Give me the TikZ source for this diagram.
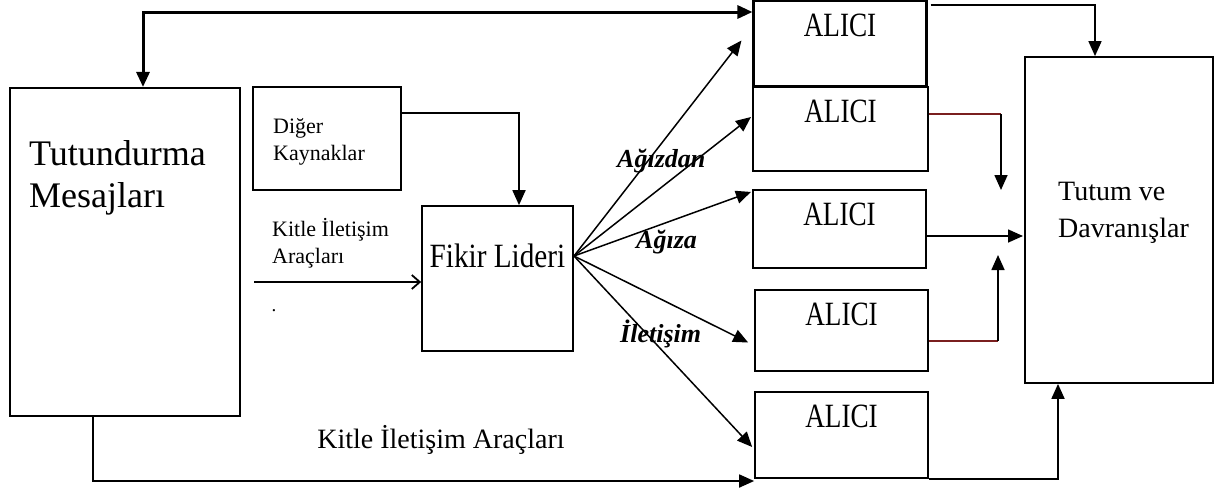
\documentclass[tikz,border=0pt]{standalone}
\usepackage{fontspec}
\setmainfont{Liberation Serif}
\newfontfamily\narrowfont{Liberation Serif}[FakeStretch=0.8]
\newfontfamily\midfont{Liberation Serif}[FakeStretch=0.86]
\usetikzlibrary{arrows.meta,calc}
\definecolor{linkred}{HTML}{7A1F1F}
\tikzset{
  box/.style={draw, line width=2.1pt, inner sep=0pt},
  tri/.style={-{Triangle[length=15pt,width=13pt]}},
  tritwo/.style={{Triangle[length=15pt,width=13pt]}-{Triangle[length=15pt,width=13pt]}},
  barb/.style={-{Straight Barb[length=8pt,width=14pt,line width=1.8pt]}},
  conn/.style={line width=1.8pt},
  fanline/.style={line width=1.5pt, tri},
  alici/.style={box, minimum width=173pt,
    label={[anchor=north, inner sep=0pt, yshift=-14pt, font=\narrowfont\fontsize{34}{34}\selectfont]north:ALICI}},
  lbl/.style={font=\bfseries\itshape\fontsize{26}{26}\selectfont, inner sep=0pt}
}
\begin{document}
\begin{tikzpicture}[x=1pt,y=-1pt]
\useasboundingbox (0,0) rectangle (1215,493);

% boxes (multi-line texts are placed by the baseline of their last line)
\node[box, minimum width=230pt, minimum height=328pt] (tut) at (125,252) {};
\node[anchor=base west, inner sep=0pt, align=left, font=\fontsize{36}{42}\selectfont] at (29,207) {Tutundurma\\Mesajları};

\node[box, minimum width=148pt, minimum height=103pt] (dig) at (327,138.5) {};
\node[anchor=base west, inner sep=0pt, align=left, font=\fontsize{22}{27}\selectfont] at (273,160) {Diğer\\Kaynaklar};

\node[box, line width=1.7pt, minimum width=151pt, minimum height=145pt] (fik) at (497.5,278.5) {};
\node[anchor=base, inner sep=0pt, font=\midfont\fontsize{34}{34}\selectfont] at (fik.center |- 0,267) {Fikir Lideri};

\node[alici, minimum height=85pt] (a1) at (840,43.5) {};
\node[alici, minimum height=84pt, minimum width=175pt] (a2) at (840.5,129) {};
\node[alici, minimum height=78pt] (a3) at (839.5,229) {};
\node[alici, line width=1.7pt, minimum height=81pt] (a4) at (841.5,330.5) {};
\node[alici, line width=1.7pt, minimum height=86pt] (a5) at (841.5,435) {};

\node[box, line width=1.8pt, minimum width=188pt, minimum height=326pt] (tt) at (1119,220) {};
\node[anchor=base west, inner sep=0pt, align=left, font=\fontsize{28}{37}\selectfont] at (1058,237) {Tutum ve\\Davranışlar};

% texts on the left
\node[anchor=base west, inner sep=0pt, align=left, font=\fontsize{22}{27}\selectfont] at (272,263) {Kitle İletişim\\Araçları};
\node[inner sep=0pt, font=\fontsize{19}{19}\selectfont] at (274,311) {.};
\node[anchor=base, inner sep=0pt, font=\fontsize{28}{28}\selectfont] at (441,448) {Kitle İletişim Araçları};

% fixed points of the connectors
\coordinate (top) at (143,12);
\coordinate (dk) at (519,113);
\coordinate (km) at (254,282);
\coordinate (bl) at (93,481);
\coordinate (br) at (1058,478);
\coordinate (fan) at (574,256);
\coordinate (r1) at (1095,6);
\coordinate (r2) at (1001,114);
\coordinate (r2e) at (1001,190);
\coordinate (r3) at (926,236);
\coordinate (r3e) at (1023,236);
\coordinate (r4) at (998,341);
\coordinate (r4e) at (998,255);

% feedback line over the top
\draw[conn, line width=3pt, tritwo] (tut.north -| top) -- (top) -- (a1.west |- top);

% other sources into the opinion leader
\draw[conn, tri] (dig.east |- dk) -| (fik.north -| dk);
\draw[conn, barb] (km) -- (fik.west |- km);

% mass media line along the bottom
\draw[conn, tri] (tut.south -| bl) |- (a5.west |- bl);
\draw[conn, tri] (a5.south east) -| (tt.south -| br);

% word of mouth fan
\draw[fanline] (fan) -- ($(a1.west)+(-11,-3)$);
\draw[fanline] (fan) -- ($(a2.west)+(-1,-12)$);
\draw[fanline] (fan) -- ($(a3.north west)+(-1,3)$);
\draw[fanline] (fan) -- ($(a4.west)+(-6,12)$);
\draw[fanline] (fan) -- ($(a5.west)+(-2,12)$);

\node[lbl, anchor=base west] at (617,167) {Ağızdan};
\node[lbl, anchor=base west] at (636,248) {Ağıza};
\node[lbl, anchor=base west] at (620,342) {İletişim};

% receivers into attitudes and behaviour
\draw[conn, line width=1.6pt, tri] ($(a1.north east)+(3,5)$) -| (tt.north -| r1);
\draw[linkred, line width=1.6pt] (a2.east |- r2) -- (r2);
\draw[conn, line width=1.6pt, tri] (r2) -- (r2e);
\draw[conn, line width=1.6pt, tri] (r3) -- (r3e);
\draw[linkred, line width=1.6pt] (a4.east |- r4) -- (r4);
\draw[conn, line width=1.6pt, tri] (r4) -- (r4e);
\end{tikzpicture}
\end{document}
